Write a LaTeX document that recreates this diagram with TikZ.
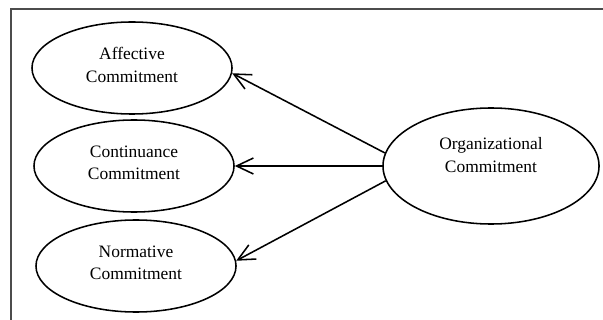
\documentclass[tikz,border=0pt]{standalone}
\usepackage{fontspec}
\setmainfont{Liberation Serif}
\usetikzlibrary{shapes.geometric,arrows.meta}

\tikzset{
  oval/.style={draw,ellipse,line width=1.1pt,inner sep=0pt,minimum width=5cm,minimum height=2.3cm},
  txt/.style={align=center,font=\fontsize{12.4}{16}\selectfont},
  arr/.style={-{Straight Barb[length=4.2mm,width=4mm]},line width=1.1pt}
}

\begin{document}
\begin{tikzpicture}[x=0.025cm,y=-0.025cm]
          \useasboundingbox (0,0) rectangle (603,320);
          \draw[gray!60!black,line width=1pt] (11,320) |- (603,9);
          \node[oval,label={[txt,yshift=0.08cm]center:{Affective\\Commitment}}] (aff) at (132,68) {};
          \node[oval,label={[txt,yshift=0.08cm]center:{Continuance\\Commitment}}] (cont) at (134,166) {};
          \node[oval,label={[txt,yshift=0.08cm]center:{Normative\\Commitment}}] (norm) at (136,266) {};
          \node[oval,minimum width=5.4cm,minimum height=2.9cm,label={[txt,yshift=0.27cm]center:{Organizational\\Commitment}}] (org) at (491,166) {};
          \draw[arr] (org.173) -- (aff.-3);
          \draw[arr] (org.west) -- (cont.east);
          \draw[arr] (org.188) -- (norm.3);
        \end{tikzpicture}
\end{document}
